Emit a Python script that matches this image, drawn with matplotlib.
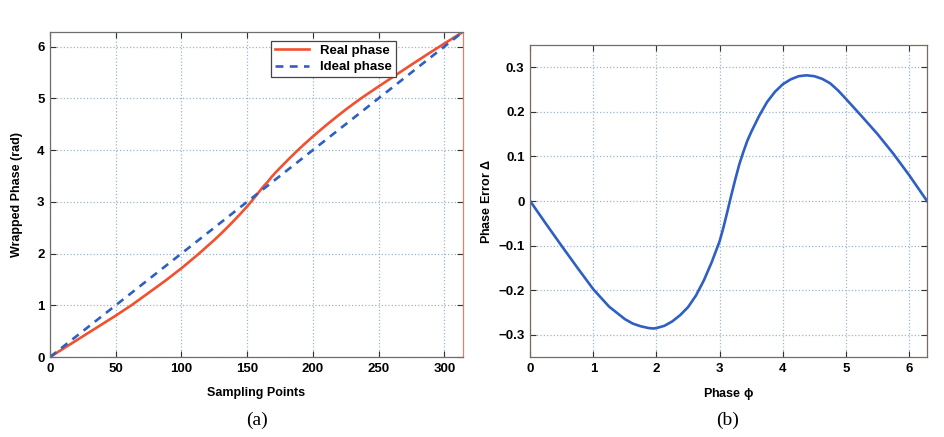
import numpy as np
import matplotlib
matplotlib.use('Agg')
import matplotlib.pyplot as plt

# ---------------------------- data --------------------------- #
# (a) wrapped phase vs sampling points
samplePts = [0, 12.5, 25, 37.5, 50, 62.5, 75, 87.5, 100, 112.5, 125, 131.25, 137.5,
             143.75, 150, 153.1, 156.25, 159.4, 162.5, 165.6, 168.75, 171.9, 175,
             181.25, 187.5, 193.75, 200, 206.25, 212.5, 218.75, 225, 231.25, 237.5,
             250, 262.5, 275, 287.5, 300, 314.16]
realPhase = [0.0, 0.20, 0.40, 0.60, 0.80, 1.01, 1.24, 1.47, 1.715, 1.98, 2.262, 2.413, 2.572,
             2.738, 2.91, 3.005, 3.103, 3.203, 3.30, 3.385, 3.485, 3.573, 3.655,
             3.816, 3.972, 4.12, 4.262, 4.398, 4.53, 4.657, 4.782, 4.90, 5.014,
             5.229, 5.44, 5.65, 5.856, 6.058, 6.283]
idealPts = [0, 314.16]
idealPhase = [0.0, 6.283]

# (b) phase error vs phase
phi = [0.0, 0.25, 0.5, 0.75, 1.0, 1.25, 1.5, 1.625, 1.75, 1.875, 1.95, 2.0, 2.125,
       2.25, 2.375, 2.5, 2.625, 2.75, 2.875, 3.0, 3.0625, 3.125, 3.1875, 3.25, 3.3125,
       3.375, 3.4375, 3.5, 3.625, 3.75, 3.875, 4.0, 4.125, 4.25, 4.375, 4.5, 4.625,
       4.75, 4.875, 5.0, 5.25, 5.5, 5.75, 6.0, 6.283]
phaseErr = [0.0, -0.051, -0.101, -0.150, -0.198, -0.237, -0.265, -0.275, -0.281, -0.285,
            -0.286, -0.285, -0.280, -0.270, -0.256, -0.238, -0.212, -0.178, -0.137, -0.090,
            -0.058, -0.022, 0.015, 0.050, 0.083, 0.110, 0.135, 0.155, 0.191, 0.222, 0.245,
            0.262, 0.273, 0.280, 0.282, 0.280, 0.274, 0.264, 0.248, 0.229, 0.190, 0.150,
            0.106, 0.058, 0.0]

xTicksA = [0, 50, 100, 150, 200, 250, 300]
yTicksA = [0, 1, 2, 3, 4, 5, 6]
xTicksB = [0, 1, 2, 3, 4, 5, 6]
yTicksB = [-0.3, -0.2, -0.1, 0, 0.1, 0.2, 0.3]
yLabelsB = ['\u22120.3', '\u22120.2', '\u22120.1', '0', '0.1', '0.2', '0.3']
# ================================================================================== #

plt.rcParams['font.family'] = ['Liberation Sans', 'DejaVu Sans']
plt.rcParams['font.weight'] = 'bold'
plt.rcParams['font.size'] = 9
plt.rcParams['mathtext.fontset'] = 'custom'
plt.rcParams['mathtext.rm'] = 'Liberation Sans'
plt.rcParams['mathtext.bf'] = 'Liberation Sans:bold'
plt.rcParams['mathtext.it'] = 'Liberation Sans:italic'
plt.rcParams['mathtext.sf'] = 'Liberation Sans'

RED = '#f2502e'
BLUE = '#2f5fc4'
GRID = '#9db6cc'

fig = plt.figure(figsize=(9.45, 4.37), dpi=100)
axA = fig.add_axes([0.0529, 0.183, 0.437, 0.744])
axB = fig.add_axes([0.561, 0.183, 0.420, 0.714])


def matlab_style(ax, spineColor):
    ax.grid(True, linestyle=':', color=GRID, linewidth=0.9)
    ax.set_axisbelow(True)
    ax.tick_params(direction='in', top=True, right=True, length=4,
                   width=0.8, colors='#333333', labelsize=9.5, pad=4)
    for lbl in ax.get_xticklabels() + ax.get_yticklabels():
        lbl.set_fontweight('bold')
        lbl.set_color('black')
    for s in ax.spines.values():
        s.set_color(spineColor)
        s.set_linewidth(0.9)


# (a)
axA.plot(samplePts, realPhase, color=RED, lw=1.9, label='Real phase')
axA.plot(idealPts, idealPhase, color=BLUE, lw=1.9, linestyle='--', dashes=(3, 2.4),
         label='Ideal phase')
axA.set_xlim(0, 314.16)
axA.set_ylim(0, 6.283)
axA.set_xticks(xTicksA)
axA.set_yticks(yTicksA)
matlab_style(axA, '#6e6e6e')
axA.spines['right'].set_color('#d9826f')
axA.set_xlabel('Sampling Points', fontweight='bold', labelpad=9)
axA.set_ylabel('Wrapped Phase (rad)', fontweight='bold', labelpad=10)
leg = axA.legend(loc='upper right', bbox_to_anchor=(0.853, 0.993), fancybox=False,
                 framealpha=1, edgecolor='#444444', handlelength=2.6,
                 borderpad=0.3, labelspacing=0.3, prop={'weight': 'bold', 'size': 9.5})
leg.get_frame().set_linewidth(0.9)
fig.text(0.272, 0.028, '(a)', family='Liberation Serif', fontweight='normal',
         fontsize=14, ha='center')

# (b)
axB.plot(phi, phaseErr, color=BLUE, lw=1.9)
axB.set_xlim(0, 6.283)
axB.set_ylim(-0.35, 0.35)
axB.set_xticks(xTicksB)
axB.set_yticks(yTicksB)
axB.set_yticklabels(yLabelsB)
matlab_style(axB, '#7a6a62')
axB.set_xlabel(r'$\mathbf{Phase}\ \mathrm{\phi}$', fontweight='normal', labelpad=8)
axB.set_ylabel(r'$\mathbf{Phase\ Error}\ \mathrm{\Delta}$', fontweight='normal', labelpad=4)
fig.text(0.770, 0.028, '(b)', family='Liberation Serif', fontweight='normal',
         fontsize=14, ha='center')

plt.savefig('out.png', dpi=100)
